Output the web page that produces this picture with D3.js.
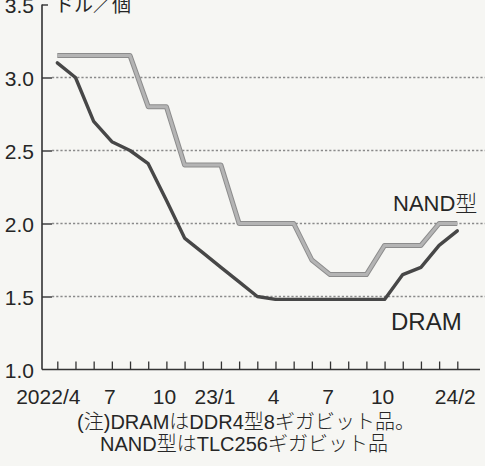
<!DOCTYPE html>
<html><head><meta charset="utf-8">
<script src="https://cdn.jsdelivr.net/npm/d3@7"></script>
<style>
html,body{margin:0;padding:0;background:#f6f6f3;}
svg{display:block;}
text{font-family:"Liberation Sans",Arial,"Noto Sans CJK JP",sans-serif;fill:#262626;}
</style></head>
<body>
<script>
// months from 2022/4 to 2024/2 (index 0..22)
const months = d3.range(0, 23);
const tickLabels = ["2022/4","7","10","23/1","4","7","10","24/2"];
const tickLabelIdx = [0,3,6,9,12,15,18,22];
const dram = [3.10,3.00,2.70,2.56,2.50,2.41,2.16,1.90,1.80,1.70,1.60,1.50,1.48,1.48,1.48,1.48,1.48,1.48,1.48,1.65,1.70,1.85,1.95];
const nand = [3.15,3.15,3.15,3.15,3.15,2.80,2.80,2.40,2.40,2.40,2.00,2.00,2.00,2.00,1.75,1.65,1.65,1.65,1.85,1.85,1.85,2.00,2.00];
const yTicks = [1.0,1.5,2.0,2.5,3.0,3.5];
const unitLabel = "ドル／個";
const noteLines = ["(注)DRAMはDDR4型8ギガビット品。","NAND型はTLC256ギガビット品"];

const W = 485, H = 466;
const svg = d3.select("body").append("svg").attr("width", W).attr("height", H);

const axisX = 42;
const x = d3.scaleLinear().domain([0, 22]).range([57.3, 457.3]);
const y = d3.scaleLinear().domain([1.0, 3.5]).range([369.5, 4.5]);

// gridlines
svg.append("g").selectAll("line").data(yTicks.filter(v => v > 1 && v < 3.5)).join("line")
  .attr("x1", axisX + 10).attr("x2", W).attr("y1", d => y(d)).attr("y2", d => y(d))
  .attr("stroke", "#8a8a8a").attr("stroke-width", 1.3).attr("stroke-dasharray", "2.2,2");

// y axis
const ya = svg.append("g").attr("transform", `translate(${axisX},0)`)
  .call(d3.axisRight(y).tickValues(yTicks).tickSize(10).tickFormat(""));
ya.select(".domain").attr("d", `M0,${y(3.5)}V${y(1.0)}`).attr("stroke", "#333").attr("stroke-width", 1.6);
ya.selectAll(".tick line").attr("stroke", "#333").attr("stroke-width", 1.4)
  .attr("x2", d => d === 3.5 ? 6 : 10);
ya.selectAll(".tick").filter(d => d === 1.0).remove();

svg.append("g").selectAll("text").data(yTicks).join("text")
  .attr("x", 34).attr("y", d => y(d) + 1).attr("dy", "0.36em")
  .attr("text-anchor", "end").attr("font-size", 21)
  .text(d => d.toFixed(1));

svg.append("text").attr("x", 55).attr("y", 12).attr("font-size", 19)
  .attr("font-family", "'Noto Sans CJK JP',sans-serif").attr("fill", "#333").text(unitLabel);

// x axis
const xa = svg.append("g").attr("transform", `translate(0,${y(1.0)})`)
  .call(d3.axisTop(x).tickValues(months).tickSize(8).tickFormat(""));
xa.select(".domain").attr("d", `M${axisX},0H480`).attr("stroke", "#333").attr("stroke-width", 1.6);
xa.selectAll(".tick line").attr("stroke", "#333").attr("stroke-width", 1.3);

svg.append("g").selectAll("text").data(tickLabelIdx).join("text")
  .attr("x", (d, i) => x(d) + (i === 0 ? -9 : (i === 3 ? -6 : -2)))
  .attr("y", 404).attr("text-anchor", "middle").attr("font-size", 21)
  .text((d, i) => tickLabels[i]);

// lines
const line = d3.line().x((d, i) => x(months[i])).y(d => y(d));
svg.append("path").datum(nand).attr("d", line).attr("fill", "none")
  .attr("stroke", "#8c8c8c").attr("stroke-width", 5).attr("stroke-linejoin", "round");
svg.append("path").datum(nand).attr("d", line).attr("fill", "none")
  .attr("stroke", "#b4b4b4").attr("stroke-width", 3).attr("stroke-linejoin", "round");
svg.append("path").datum(dram).attr("d", line).attr("fill", "none")
  .attr("stroke", "#474747").attr("stroke-width", 3.4).attr("stroke-linejoin", "round").attr("stroke-linecap", "round");

// series labels
svg.append("text").attr("x", 393).attr("y", 211).attr("font-size", 22)
  .attr("font-family", "'Noto Sans CJK JP',sans-serif").attr("font-weight", 300).attr("fill", "#333").text("NAND型");
svg.append("text").attr("x", 391).attr("y", 330).attr("font-size", 24)
  .attr("font-weight", 400).attr("fill", "#333").text("DRAM");

// note
svg.append("g").selectAll("text").data(noteLines).join("text")
  .attr("x", (d, i) => i === 0 ? 246 : 244).attr("y", (d, i) => 429 + i * 22)
  .attr("text-anchor", "middle").attr("font-size", 20).attr("font-weight", 300)
  .attr("font-family", "'Noto Sans CJK JP',sans-serif")
  .text(d => d);
</script>
</body></html>
